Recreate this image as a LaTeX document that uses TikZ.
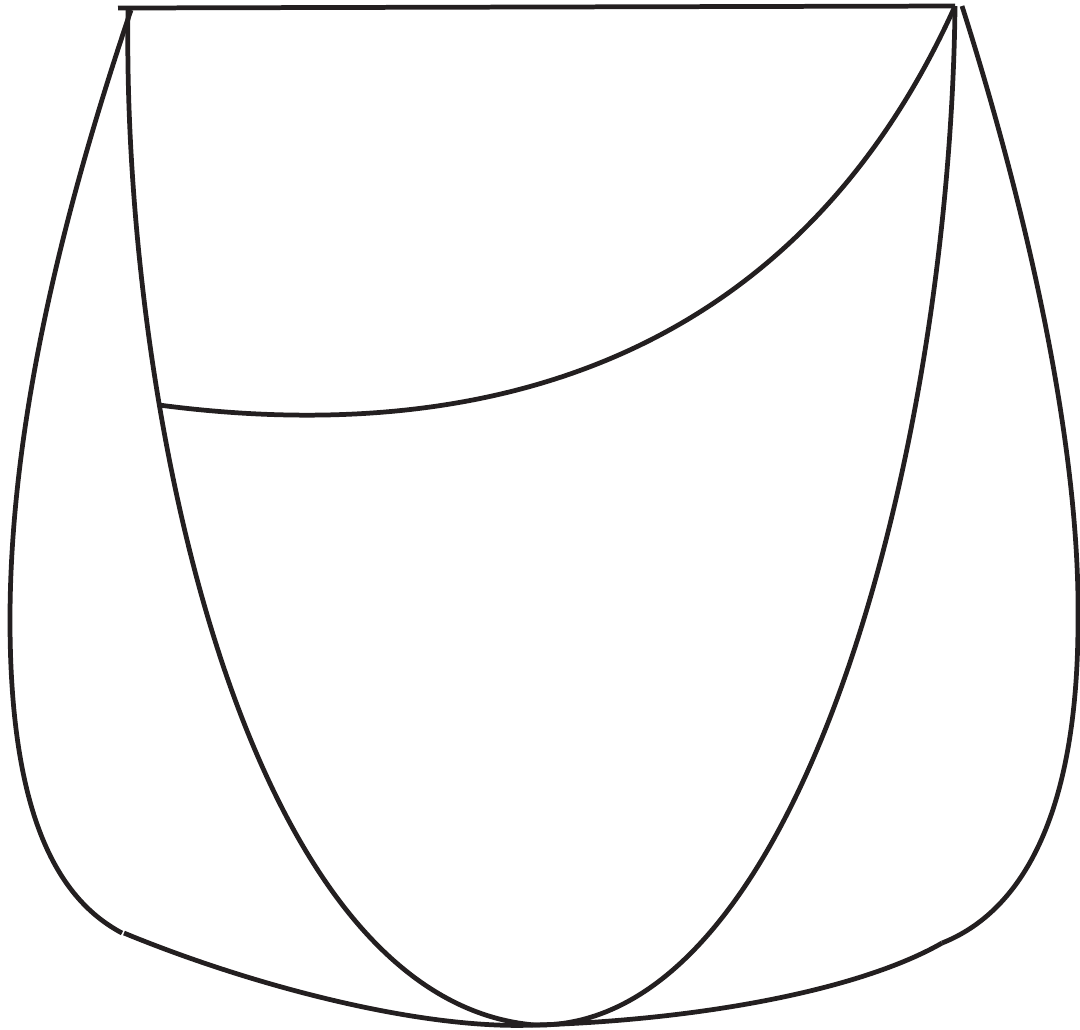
\documentclass[tikz,border=0pt]{standalone}
\definecolor{ink}{HTML}{231F20}
\begin{document}
\begin{tikzpicture}[x=0.01cm,y=-0.01cm,
  edge/.style={draw=ink,line width=1.35pt,line join=round}]
\useasboundingbox (0,0) rectangle (1080,1029);
\coordinate (TL) at (128,10);
\coordinate (TR) at (955,6);
\coordinate (B) at (535,1025);
\coordinate (M) at (159,405);
% top edge
\draw[edge] (118,8) -- (TR);
% left outer
\draw[edge] (131,10) .. controls (60,220) and (10,430) .. (10,620)
  .. controls (10,820) and (60,900) .. (122,933);
% bottom left
\draw[edge] (124,933) .. controls (250,985) and (420,1030) .. (B);
% inner left
\draw[edge] (TL) .. controls (122,400) and (242,1000) .. (B);
% inner right
\draw[edge] (TR) .. controls (950,450) and (800,1030) .. (B);
% right outer
\draw[edge] (962,6) .. controls (1030,220) and (1080,450) .. (1078,620)
  .. controls (1078,850) and (1000,920) .. (942,943);
% bottom right
\draw[edge] (B) .. controls (700,1020) and (860,990) .. (942,943);
% middle curve
\draw[edge] (M) .. controls (500,450) and (800,350) .. (TR);
\end{tikzpicture}
\end{document}
